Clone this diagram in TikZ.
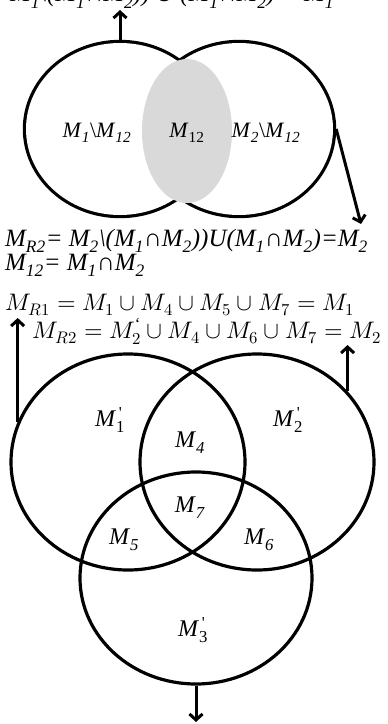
\documentclass[tikz,border=0pt]{standalone}
\usepackage{amsmath}
\usepackage{unicode-math}
\setmainfont{Liberation Serif}
\usetikzlibrary{shapes.geometric,arrows.meta,positioning,calc}

\newcommand{\Mi}[1]{\textit{M}\textsubscript{\textit{#1}}}
\newcommand{\Mp}[1]{\textit{M}\rlap{\textsuperscript{\,\textquotesingle}}\textsubscript{#1}}

\begin{document}
\begin{tikzpicture}[
      x=1bp, y=1bp,
      ring/.style={ellipse, draw, line width=3.2bp, inner sep=0pt},
      lens/.style={ellipse, fill=gray!30, inner sep=0pt},
      arrow/.style={-{Straight Barb[length=6bp,width=13bp]}, line width=3bp},
      lbl/.style={font=\fontsize{22}{26}\selectfont, inner sep=0pt},
      setlbl/.style={font=\fontsize{24}{28}\selectfont, inner sep=0pt},
      txt/.style={anchor=base west, inner sep=0pt, font=\fontsize{25}{29}\selectfont\itshape},
      eq/.style={anchor=base west, inner sep=0pt, font=\fontsize{24}{28}\selectfont},
    ]
    \useasboundingbox (0,0) rectangle (387,-724);

    % two sets, outline of the union only
    \node[ring, line width=6.4bp, minimum width=188bp, minimum height=172bp] (lc) at (120,-129) {};
    \node[ring, line width=6.4bp, minimum width=188bp, minimum height=172bp] (rc) at (239,-129) {};
    \path[fill=white] (lc.center) ellipse (94 and 86);
    \path[fill=white] (rc.center) ellipse (94 and 86);
    \node[lens, minimum width=90bp, minimum height=144bp] (mid) at (187,-131) {};

    \node[lbl] (l1)  at (97,-133)  {\Mi{1}\textbackslash\Mi{12}};
    \node[lbl] (l12) at (187,-133) {\textit{M}\textsubscript{12}};
    \node[lbl] (l2)  at (266,-133) {\Mi{2}\textbackslash\Mi{12}};

    \coordinate (upT) at (120,-10);
    \coordinate (dnR) at (361,-224);
    \draw[arrow] (lc.north) -- (upT);
    \draw[arrow] (rc.east) -- (dnR);

    % formulas
    \node[txt] (cut) at (10,-2)   {\Mi{1}\textbackslash(\Mi{1}∩\Mi{2})) U (\Mi{1}∩\Mi{2}) = \Mi{1}};
    \node[txt] (mr2) at (5,-246)  {\Mi{R2}= \Mi{2}\textbackslash(\Mi{1}∩\Mi{2}))U(\Mi{1}∩\Mi{2})=\Mi{2}};
    \node[txt] (m12) at (5,-270)  {\Mi{12}= \Mi{1}∩\Mi{2}};
    \node[eq]  (r1)  at (5,-310)  {$M_{R1} = M_1 \cup M_4 \cup M_5 \cup M_7 = M_1$};
    \node[eq]  (r2)  at (32,-338) {$M_{R2} = M^{\text{`}}_2 \cup M_4 \cup M_6 \cup M_7 = M_2$};

    % three sets
    \node[ring, minimum width=234bp, minimum height=216bp] (c1) at (128,-462) {};
    \node[ring, minimum width=234bp, minimum height=216bp] (c2) at (257,-462) {};
    \node[ring, minimum width=232bp, minimum height=212bp] (c3) at (196,-578) {};

    \node[setlbl] (a1) at (110,-420) {\Mp{1}};
    \node[setlbl] (a2) at (288,-420) {\Mp{2}};
    \node[setlbl] (a4) at (190,-443) {\Mi{4}};
    \node[setlbl] (a7) at (190,-508) {\Mi{7}};
    \node[setlbl] (a5) at (124,-540) {\Mi{5}};
    \node[setlbl] (a6) at (259,-540) {\Mi{6}};
    \node[setlbl] (a3) at (193,-630) {\Mp{3}};

    \coordinate (upL) at (19,-318);
    \coordinate (upR) at (347,-345);
    \coordinate (dn)  at (196,-722);
    \draw[arrow] (c1.160) -- (c1.160 |- upL);
    \draw[arrow] (c2.38) -- (c2.38 |- upR);
    \draw[arrow] (c3.south) -- (dn);
  \end{tikzpicture}
\end{document}
